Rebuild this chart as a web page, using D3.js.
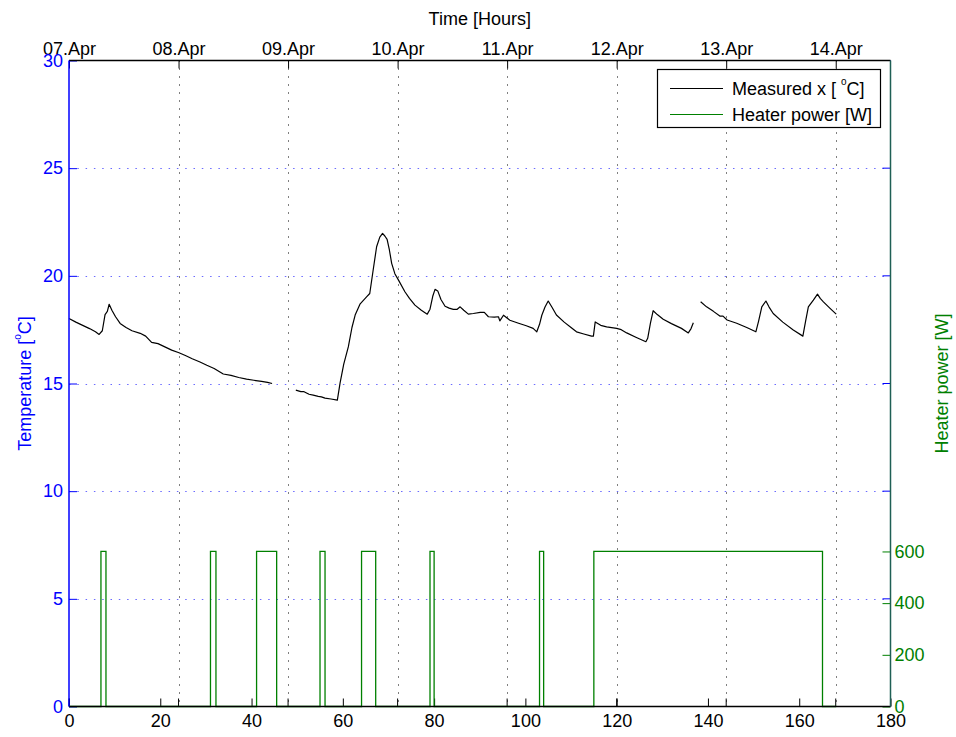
<!DOCTYPE html>
<html>
<head>
<meta charset="utf-8">
<script src="https://cdn.jsdelivr.net/npm/d3@7"></script>
<style>
  html, body { margin: 0; padding: 0; background: #fff; }
  svg { display: block; font-family: "Liberation Sans", Arial, Helvetica, sans-serif; }
</style>
</head>
<body>
<svg id="chart" width="956" height="737"></svg>
<script>
// Measured room temperature [°C] (null = logging gap)
const tempHours = [0, 1.5, 3, 4.5, 5.8, 6.6, 7.3, 7.9, 8.4, 8.8, 9.4, 10.2, 11.2, 12.5, 13.8, 15.6, 16.8, 18.1, 19.5, 21, 22.5, 24.1, 25.5, 27, 28.7, 30.2, 31.8, 33.8, 35.5, 37.2, 38.9, 40.5, 42.2, 43.5, 44.5,
  45.5,
  49.7, 50.8, 51.5, 52.6, 53.5, 54.6, 55.3, 56.1, 57.4, 58.8, 59.4, 60.2, 61.2, 62.0, 62.7, 63.8, 65.2, 65.9, 66.6, 67.4, 68.1, 68.7, 69.2, 69.7, 70.2, 70.7, 71.4, 72.2, 73.6, 74.6, 75.8, 77.2, 78.5, 79.1, 79.7, 80.2, 80.8, 81.5, 82.4, 83.3, 84.2, 85.0, 85.7, 86.5, 87.5, 88.6, 90.1,
  91.0, 91.9, 93.2, 94.1, 94.4, 95.2, 96.6, 98.5, 100.2, 101.7, 102.5, 103.1, 103.6, 104.3, 105.0, 105.8, 106.8, 108.5, 110.0, 111.2, 112.8, 114.5, 114.9, 115.3, 116.5, 117.8, 120.0, 121.0, 122.2, 124.2, 126.4, 126.8, 127.4, 128.0, 128.9, 130.2, 132.0, 134.2, 135.7, 136.3, 136.8,
  137.6,
  138.4, 139.7, 141.2, 142.6, 143.3, 144.2, 146.3, 148.5, 150.5, 151.1, 151.8, 152.7, 153.4, 154.3, 156.4, 158.7, 160.8, 161.4, 162.0, 163.1, 164.0, 164.6, 165.3, 166.7, 168.1];
const tempValues = [18.02, 17.85, 17.7, 17.55, 17.4, 17.28, 17.45, 18.2, 18.35, 18.68, 18.4, 18.1, 17.79, 17.6, 17.45, 17.33, 17.2, 16.91, 16.85, 16.7, 16.55, 16.43, 16.3, 16.15, 16.0, 15.85, 15.7, 15.44, 15.38, 15.28, 15.2, 15.15, 15.1, 15.05, 15.0,
  null,
  14.69, 14.62, 14.62, 14.5, 14.46, 14.4, 14.38, 14.32, 14.28, 14.23, 15.03, 15.9, 16.7, 17.6, 18.18, 18.7, 19.02, 19.18, 20.2, 21.35, 21.8, 21.97, 21.85, 21.69, 21.2, 20.58, 20.1, 19.8, 19.26, 18.95, 18.64, 18.4, 18.22, 18.45, 19.05, 19.37, 19.3, 18.9, 18.59, 18.5, 18.44, 18.44, 18.56, 18.4, 18.22, 18.25, 18.3,
  18.3, 18.1, 18.08, 18.1, 17.91, 18.17, 17.94, 17.8, 17.68, 17.56, 17.4, 17.75, 18.17, 18.55, 18.83, 18.55, 18.18, 17.85, 17.6, 17.4, 17.3, 17.2, 17.2, 17.86, 17.7, 17.63, 17.56, 17.5, 17.35, 17.15, 16.94, 17.1, 17.8, 18.38, 18.2, 17.98, 17.78, 17.56, 17.35, 17.55, 17.82,
  null,
  18.8, 18.56, 18.35, 18.13, 18.13, 17.95, 17.8, 17.6, 17.4, 17.9, 18.56, 18.83, 18.55, 18.25, 17.85, 17.48, 17.2, 17.9, 18.56, 18.87, 19.15, 18.95, 18.79, 18.5, 18.22];

// Heater power [W] switching instants (value holds until the next instant)
const powerHours = [0, 7.0, 8.1, 31.0, 32.2, 41.1, 45.5, 55.0, 56.1, 64.1, 67.2, 79.1, 80.0, 103.1, 104.0, 115.0, 165.1, 168.1];
const powerValues = [0, 600, 0, 600, 0, 600, 0, 600, 0, 600, 0, 600, 0, 600, 0, 600, 0, 0];

// Axis ticks and labels
const hourTicks = [0, 20, 40, 60, 80, 100, 120, 140, 160, 180];
const dateTicks = [0, 24, 48, 72, 96, 120, 144, 168];
const dateLabels = ["07.Apr", "08.Apr", "09.Apr", "10.Apr", "11.Apr", "12.Apr", "13.Apr", "14.Apr"];
const tempTicks = [0, 5, 10, 15, 20, 25, 30];
const powerTicks = [0, 200, 400, 600];

const svg = d3.select("#chart");
const L = 69, R = 890.5, T = 60.5, B = 706.5;
const FS = 18;
const BLUE = "#0000ff", GREEN = "#008000";

const x = d3.scaleLinear().domain([0, 180]).range([L, R]);
const yT = d3.scaleLinear().domain([0, 30]).range([B, T]);
const yP = d3.scaleLinear().domain([0, 2500]).range([B, T]);

// Grid: dotted black verticals at day boundaries, dotted blue horizontals
const grid = svg.append("g");
grid.selectAll("line.v").data(dateTicks.filter(d => d > 0)).join("line")
  .attr("x1", d => Math.round(x(d)) + 0.5).attr("x2", d => Math.round(x(d)) + 0.5)
  .attr("y1", T).attr("y2", B)
  .attr("stroke", "#000").attr("stroke-width", 1).attr("stroke-dasharray", "1,7");
grid.selectAll("line.h").data(tempTicks.filter(d => d > 0 && d < 30)).join("line")
  .attr("x1", L).attr("x2", R)
  .attr("y1", d => Math.round(yT(d)) + 0.5).attr("y2", d => Math.round(yT(d)) + 0.5)
  .attr("stroke", "#6a6aff").attr("stroke-width", 1).attr("stroke-dasharray", "1.5,6.8");

// Bottom axis (hours), ticks pointing inward
const axB = svg.append("g").attr("transform", `translate(0,${B})`)
  .call(d3.axisBottom(x).tickValues(hourTicks).tickSize(-8).tickPadding(8).tickFormat(d3.format("d")));
axB.select(".domain").remove();
axB.selectAll("line").attr("stroke", "#000");
axB.selectAll("text").attr("font-size", FS).attr("fill", "#000").style("font-family", "inherit");

// Day ticks mirrored on the bottom edge
svg.append("g").selectAll("line").data(dateTicks).join("line")
  .attr("x1", d => x(d)).attr("x2", d => x(d)).attr("y1", B).attr("y2", B - 8).attr("stroke", "#000");

// Top axis (dates)
const xDate = d3.scaleOrdinal().domain(dateTicks).range(dateLabels);
const axTop = svg.append("g").attr("transform", `translate(0,${T})`)
  .call(d3.axisTop(x).tickValues(dateTicks).tickSize(-8).tickPadding(5.5).tickFormat(d => xDate(d)));
axTop.select(".domain").remove();
axTop.selectAll("line").attr("stroke", "#000");
axTop.selectAll("text").attr("font-size", FS).attr("fill", "#000").style("font-family", "inherit");

// Left axis (temperature)
const axL = svg.append("g").attr("transform", `translate(${L},0)`)
  .call(d3.axisLeft(yT).tickValues(tempTicks).tickSize(-8).tickPadding(6));
axL.select(".domain").remove();
axL.selectAll("line").attr("stroke", BLUE);
axL.selectAll("text").attr("font-size", FS).attr("fill", BLUE).style("font-family", "inherit");

// Temperature ticks mirrored on the right edge
svg.append("g").selectAll("line").data(tempTicks).join("line")
  .attr("x1", R).attr("x2", R - 8).attr("y1", d => yT(d)).attr("y2", d => yT(d)).attr("stroke", BLUE);

// Right axis (heater power)
const axR = svg.append("g").attr("transform", `translate(${R},0)`)
  .call(d3.axisRight(yP).tickValues(powerTicks).tickSize(-8).tickPadding(4));
axR.select(".domain").remove();
axR.selectAll("line").attr("stroke", GREEN);
axR.selectAll("text").attr("font-size", FS).attr("fill", GREEN).style("font-family", "inherit");

// Heater power step line
const powerData = powerHours.map((h, i) => ({ h, v: powerValues[i] }));
svg.append("path").datum(powerData)
  .attr("fill", "none").attr("stroke", GREEN).attr("stroke-width", 1.3)
  .attr("d", d3.line().x(d => x(d.h)).y(d => yP(d.v)).curve(d3.curveStepAfter));

// Temperature line
const tempData = tempHours.map((h, i) => ({ h, v: tempValues[i] }));
svg.append("path").datum(tempData)
  .attr("fill", "none").attr("stroke", "#000").attr("stroke-width", 1.2).attr("stroke-linejoin", "round")
  .attr("d", d3.line().defined(d => d.v !== null).x(d => x(d.h)).y(d => yT(d.v)));

// Axis frame lines
svg.append("line").attr("x1", L).attr("x2", R).attr("y1", T).attr("y2", T).attr("stroke", "#000").attr("stroke-width", 1.3);
svg.append("line").attr("x1", L).attr("x2", R).attr("y1", B).attr("y2", B).attr("stroke", "#000").attr("stroke-width", 1.3);
svg.append("line").attr("x1", L).attr("x2", L).attr("y1", T).attr("y2", B).attr("stroke", BLUE).attr("stroke-width", 1.5);
svg.append("line").attr("x1", R).attr("x2", R).attr("y1", T).attr("y2", B).attr("stroke", "#1f5f55").attr("stroke-width", 1.5);

// Titles
svg.append("text").attr("x", (L + R) / 2).attr("y", 25).attr("text-anchor", "middle")
  .attr("font-size", FS).attr("fill", "#000").text("Time [Hours]");

function degreeLabel(sel, before, after) {
  sel.append("tspan").text(before);
  sel.append("tspan").attr("font-size", 10).attr("dy", -10).text("o");
  sel.append("tspan").attr("dy", 10).text(after);
}

const yl = svg.append("text").attr("transform", `translate(31,${(T + B) / 2}) rotate(-90)`)
  .attr("text-anchor", "middle").attr("font-size", FS).attr("fill", BLUE);
degreeLabel(yl, "Temperature [", "C]");

svg.append("text").attr("transform", `translate(948,${(T + B) / 2}) rotate(-90)`)
  .attr("text-anchor", "middle").attr("font-size", FS).attr("fill", GREEN).text("Heater power [W]");

// Legend
const lg = svg.append("g");
lg.append("rect").attr("x", 657.5).attr("y", 69.5).attr("width", 223).attr("height", 58)
  .attr("fill", "#fff").attr("stroke", "#000").attr("stroke-width", 1.2);
lg.append("line").attr("x1", 670).attr("x2", 723).attr("y1", 88.5).attr("y2", 88.5).attr("stroke", "#000").attr("stroke-width", 1.2);
lg.append("line").attr("x1", 670).attr("x2", 723).attr("y1", 114.5).attr("y2", 114.5).attr("stroke", GREEN).attr("stroke-width", 1.2);
const lt1 = lg.append("text").attr("x", 732).attr("y", 95).attr("font-size", FS).attr("fill", "#000");
degreeLabel(lt1, "Measured x [ ", "C]");
lg.append("text").attr("x", 732).attr("y", 121).attr("font-size", FS).attr("fill", "#000").text("Heater power [W]");
</script>
</body>
</html>
